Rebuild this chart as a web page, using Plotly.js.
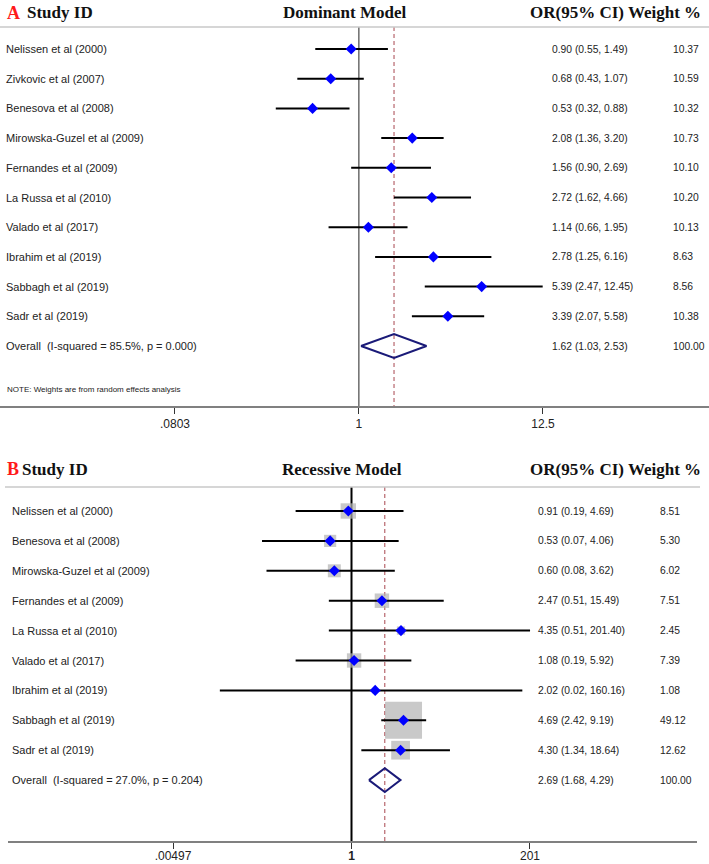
<!DOCTYPE html>
<html><head><meta charset="utf-8">
<script src="https://cdn.plot.ly/plotly-3.0.1.min.js"></script>
<style>html,body{margin:0;padding:0;background:#fff}</style>
</head><body><div id="chart" style="width:709px;height:864px"></div>
<script>
// ---------- Panel A: Dominant Model ----------
const studiesA = ["Nelissen et al (2000)", "Zivkovic et al (2007)", "Benesova et al (2008)",
  "Mirowska-Guzel et al (2009)", "Fernandes et al (2009)", "La Russa et al (2010)",
  "Valado et al (2017)", "Ibrahim et al (2019)", "Sabbagh et al (2019)", "Sadr et al (2019)"];
const orA = [0.90, 0.68, 0.53, 2.08, 1.56, 2.72, 1.14, 2.78, 5.39, 3.39];
const loA = [0.55, 0.43, 0.32, 1.36, 0.90, 1.62, 0.66, 1.25, 2.47, 2.07];
const hiA = [1.49, 1.07, 0.88, 3.20, 2.69, 4.66, 1.95, 6.16, 12.45, 5.58];
const wA  = [10.37, 10.59, 10.32, 10.73, 10.10, 10.20, 10.13, 8.63, 8.56, 10.38];
const overallA = [1.62, 1.03, 2.53, 100.00];   // OR, lower, upper, weight
const overallLabelA = "Overall  (I-squared = 85.5%, p = 0.000)";
const tickValsA = [0.0803, 1, 12.5];
const tickTextA = [".0803", "1", "12.5"];

// ---------- Panel B: Recessive Model ----------
const studiesB = ["Nelissen et al (2000)", "Benesova et al (2008)", "Mirowska-Guzel et al (2009)",
  "Fernandes et al (2009)", "La Russa et al (2010)", "Valado et al (2017)",
  "Ibrahim et al (2019)", "Sabbagh et al (2019)", "Sadr et al (2019)"];
const orB = [0.91, 0.53, 0.60, 2.47, 4.35, 1.08, 2.02, 4.69, 4.30];
const loB = [0.19, 0.07, 0.08, 0.51, 0.51, 0.19, 0.02, 2.42, 1.34];
const hiB = [4.69, 4.06, 3.62, 15.49, 201.40, 5.92, 160.16, 9.19, 18.64];
const wB  = [8.51, 5.30, 6.02, 7.51, 2.45, 7.39, 1.08, 49.12, 12.62];
const overallB = [2.69, 1.68, 4.29, 100.00];
const overallLabelB = "Overall  (I-squared = 27.0%, p = 0.204)";
const tickValsB = [0.00497, 1, 201];
const tickTextB = [".00497", "<b>1</b>", "201"];

const H = 864, W = 709;
const rowFont = {family: "Liberation Sans, Arial, sans-serif", size: 11, color: "#222"};
const numFont = {family: "Liberation Sans, Arial, sans-serif", size: 10.3, color: "#222"};
const headFont = {family: "Liberation Serif, Times New Roman, serif", size: 17, color: "#111"};
const sp = s => s.replace(/ /g, "\u00a0");
const fmt = v => v.toFixed(2);

const traces = [];
const annotations = [];
const shapes = [];

function panel(cfg) {
  const {xa, ya, studies, or, lo, hi, w, overall, overallLabel, boxes, refColor, refWidth,
         textX, weightX, labelX, topRow, bottomRow} = cfg;
  const n = studies.length;
  // reference line at OR = 1
  traces.push({type: "scatter", mode: "lines", x: [1, 1], y: [topRow, bottomRow], xaxis: xa, yaxis: ya,
    line: {color: refColor, width: refWidth}, hoverinfo: "skip"});
  // dashed line at overall estimate
  traces.push({type: "scatter", mode: "lines", x: [overall[0], overall[0]], y: [topRow, bottomRow],
    xaxis: xa, yaxis: ya, line: {color: "#a8474f", width: 1, dash: "4px,3px"}, hoverinfo: "skip"});
  // weight boxes
  if (boxes) {
    traces.push({type: "scatter", mode: "markers", x: or, y: or.map((_, i) => i), xaxis: xa, yaxis: ya,
      marker: {symbol: "square", color: "#b2b2b2", size: w.map(v => 5.28 * Math.sqrt(v)), line: {width: 0}},
      hoverinfo: "skip"});
  }
  // CI lines
  const cx = [], cy = [];
  for (let i = 0; i < n; i++) { cx.push(lo[i], hi[i], null); cy.push(i, i, null); }
  traces.push({type: "scatter", mode: "lines", x: cx, y: cy, xaxis: xa, yaxis: ya,
    line: {color: "#000", width: 2}, hoverinfo: "skip"});
  // point estimates
  traces.push({type: "scatter", mode: "markers", x: or, y: or.map((_, i) => i), xaxis: xa, yaxis: ya,
    marker: {symbol: "diamond", color: "#0000ff", size: 8.5, line: {width: 0}}, hoverinfo: "skip"});
  // overall diamond
  traces.push({type: "scatter", mode: "lines", x: [overall[1], overall[0], overall[2], overall[0], overall[1]],
    y: [n, n - 0.4, n, n + 0.4, n], xaxis: xa, yaxis: ya,
    line: {color: "#1a1a78", width: 2}, hoverinfo: "skip"});
  // text
  for (let i = 0; i <= n; i++) {
    const lab = i < n ? studies[i] : overallLabel;
    const e = i < n ? or[i] : overall[0];
    const l = i < n ? lo[i] : overall[1];
    const h = i < n ? hi[i] : overall[2];
    const ww = i < n ? w[i] : overall[3];
    annotations.push({xref: "paper", yref: ya, x: labelX / W, y: i, xanchor: "left", yanchor: "middle",
      text: sp(lab), showarrow: false, font: rowFont});
    annotations.push({xref: "paper", yref: ya, x: textX / W, y: i, xanchor: "left", yanchor: "middle",
      text: sp(fmt(e) + " (" + fmt(l) + ", " + fmt(h) + ")"), showarrow: false, font: numFont});
    annotations.push({xref: "paper", yref: ya, x: weightX / W, y: i, xanchor: "left", yanchor: "middle",
      text: fmt(ww), showarrow: false, font: numFont});
  }
}

// Panel A geometry (rows every 29.7px starting at y=49; separator 27; axis 406)
const rowA0 = 49, stepA = 29.7, sepA = 27, axA = 406;
const topA = (sepA - rowA0) / stepA, botA = (axA - rowA0) / stepA;
// Panel B geometry
const rowB0 = 511, stepB = 29.9, sepB = 487, axB = 841;
const topB = (sepB - rowB0) / stepB, botB = (axB - rowB0) / stepB;

panel({xa: "x", ya: "y", studies: studiesA, or: orA, lo: loA, hi: hiA, w: wA, overall: overallA,
  overallLabel: overallLabelA, boxes: false, refColor: "#555", refWidth: 1.3,
  textX: 550, weightX: 671, labelX: 4, topRow: topA, bottomRow: botA});
panel({xa: "x2", ya: "y2", studies: studiesB, or: orB, lo: loB, hi: hiB, w: wB, overall: overallB,
  overallLabel: overallLabelB, boxes: true, refColor: "#000", refWidth: 2,
  textX: 536, weightX: 658, labelX: 10, topRow: topB, bottomRow: botB});

// NOTE
annotations.push({xref: "paper", yref: "paper", x: 5 / W, y: 1 - 390 / H, xanchor: "left", yanchor: "middle",
  text: "NOTE: Weights are from random effects analysis", showarrow: false,
  font: {family: "Liberation Sans, Arial, sans-serif", size: 8, color: "#222"}});

// Headers
function header(yPix, letter, title, letterX, studyX, titleX) {
  annotations.push({xref: "paper", yref: "paper", x: letterX / W, y: 1 - yPix / H, xanchor: "left", yanchor: "middle",
    text: "<b>" + letter + "</b>", showarrow: false, font: {family: headFont.family, size: 18, color: "#ff1a1a"}});
  annotations.push({xref: "paper", yref: "paper", x: studyX / W, y: 1 - yPix / H, xanchor: "left", yanchor: "middle",
    text: "<b>Study ID</b>", showarrow: false, font: headFont});
  annotations.push({xref: "paper", yref: "paper", x: titleX / W, y: 1 - yPix / H, xanchor: "center", yanchor: "middle",
    text: "<b>" + title + "</b>", showarrow: false, font: headFont});
  annotations.push({xref: "paper", yref: "paper", x: 703 / W, y: 1 - yPix / H, xanchor: "right", yanchor: "middle",
    text: "<b>OR(95% CI) Weight %</b>", showarrow: false, font: headFont});
}
header(13, "A", "Dominant Model", 5, 25, 345);
header(469, "B", "Recessive Model", 5, 20, 342);

// separators
shapes.push({type: "line", xref: "paper", yref: "paper", x0: 0, x1: 1, y0: 1 - sepA / H, y1: 1 - sepA / H,
  line: {color: "#c8c8c8", width: 1.5}});
shapes.push({type: "line", xref: "paper", yref: "paper", x0: 5 / W, x1: 700 / W, y0: 1 - sepB / H, y1: 1 - sepB / H,
  line: {color: "#c8c8c8", width: 1.5}});

const tickFont = {family: "Liberation Sans, Arial, sans-serif", size: 12, color: "#222"};
const layout = {
  width: W, height: H, margin: {l: 0, r: 0, t: 0, b: 0},
  paper_bgcolor: "#fff", plot_bgcolor: "rgba(0,0,0,0)", showlegend: false,
  xaxis: {type: "log", domain: [0, 1], anchor: "y", range: [-2.1378, 2.0860],
    tickvals: tickValsA, ticktext: tickTextA, ticks: "outside", ticklen: 6, tickwidth: 1, tickcolor: "#333",
    showline: true, linecolor: "#808080", linewidth: 1.5, showgrid: false, zeroline: false, tickfont: tickFont},
  yaxis: {domain: [1 - axA / H, 1 - sepA / H], range: [botA, topA], visible: false, anchor: "x"},
  xaxis2: {type: "log", domain: [8 / W, 697 / W], anchor: "y2", range: [-4.4329, 4.4586],
    tickvals: tickValsB, ticktext: tickTextB, ticks: "outside", ticklen: 6, tickwidth: 1, tickcolor: "#333",
    ticklabelstandoff: -3,
    showline: true, linecolor: "#808080", linewidth: 1.5, showgrid: false, zeroline: false, tickfont: tickFont},
  yaxis2: {domain: [1 - axB / H, 1 - sepB / H], range: [botB, topB], visible: false, anchor: "x2"},
  annotations: annotations, shapes: shapes
};
Plotly.newPlot("chart", traces, layout, {staticPlot: true, displayModeBar: false});
</script></body></html>
